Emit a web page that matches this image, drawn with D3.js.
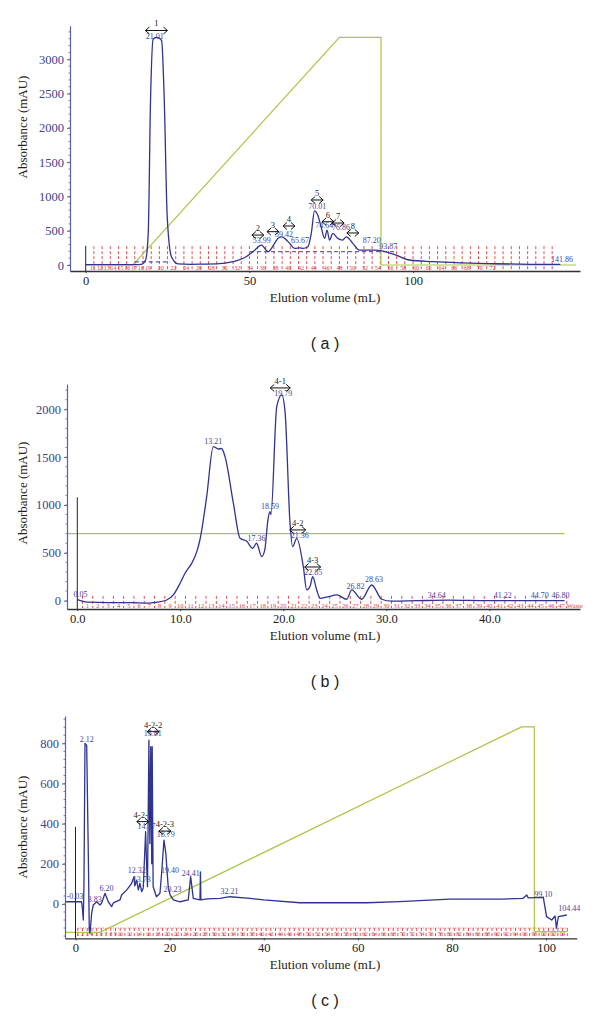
<!DOCTYPE html>
<html><head><meta charset="utf-8">
<script src="https://cdn.jsdelivr.net/npm/d3@7"></script>
<style>body{margin:0;background:#fff;} svg{display:block;} .serif{font-family:"Liberation Serif","Tinos","Times New Roman","DejaVu Serif",serif;} .sans{font-family:"Liberation Sans",Arial,sans-serif;}</style>
</head><body>
<svg id="chart" width="600" height="1025"></svg>
<script>
// ---------------- DATA ----------------
// Panel (a)
const aVolume = [0, 5, 10, 15, 17, 18.3, 19.1, 19.8, 20.6, 21.6, 22.5, 23.2, 24, 24.9, 26.2, 28.2, 32, 36, 40, 45, 49, 51.1, 53.7, 55.7, 57.7, 58.7, 59.8, 60.8, 62.3, 63.8, 65.6, 66.3, 67.9, 68.9, 69.9, 70.9, 71.9, 73, 73.7, 74.5, 75.5, 77, 78.5, 79.6, 81.6, 83.6, 86.7, 88.7, 91.8, 94.8, 98.9, 106, 115, 125, 136, 145];
const aAbsorbance = [5, 5, 5, 5, 10, 73, 465, 2400, 3295, 3320, 3310, 3270, 2400, 702, 120, 15, 10, 12, 15, 48, 120, 193, 290, 193, 315, 388, 411, 388, 315, 242, 250, 242, 266, 460, 790, 727, 557, 388, 509, 363, 460, 388, 363, 411, 315, 218, 218, 218, 193, 145, 73, 48, 30, 18, 10, 8];
const aGradVolume = [0, 14.4, 77.5, 90.2, 90.2, 149.8];
const aGradValue = [0, 0, 3320, 3320, 0, 0];
const aPeakNames = ["1", "2", "3", "4", "5", "6", "7", "8"];
const aPeakArrowX = [21.6, 52.6, 57.2, 62.1, 70.7, 74.0, 77.1, 81.6];
const aPeakArrowY = [3420, 437, 486, 569, 948, 631, 612, 467];
const aPeakArrowW = [11, 6, 6, 6, 6, 6, 6, 6];
const aLabelText = ["21.01", "53.99", "59.42", "65.67", "70.01", "74.64", "76.86", "87.20", "93.87", "141.86"];
const aLabelX = [21.1, 53.8, 60.6, 65.5, 70.7, 72.9, 78.0, 87.4, 92.4, 145.5];
const aLabelY = [3300, 325, 415, 325, 817, 545, 515, 325, 229, 44];

// Panel (b)
const bVolume = [0, 1, 3, 5, 7, 7.45, 8.68, 9.32, 9.97, 10.46, 11.1, 11.6, 11.9, 12.56, 13.2, 13.7, 14.0, 14.34, 15.15, 15.8, 16.45, 17.03, 17.4, 17.9, 18.2, 18.5, 18.7, 18.8, 19.36, 19.85, 20.17, 20.65, 20.9, 21.3, 21.94, 22.27, 22.6, 22.85, 23.24, 23.56, 24.3, 25.2, 26.15, 26.64, 27.6, 28.58, 29.55, 30.5, 33, 36, 40, 44, 47.3];
const bAbsorbance = [10, -15, -20, -20, -25, -20, 7, 60, 180, 286, 390, 512, 634, 1087, 1609, 1585, 1590, 1505, 1018, 652, 620, 548, 600, 460, 530, 840, 930, 900, 2027, 2150, 1970, 810, 564, 650, 355, 112, 150, 250, 112, 25, 40, 60, 15, 112, 15, 164, 15, -5, 0, 5, 0, 0, 0];
const bGradVolume = [-1.0, 47.3];
const bGradValue = [700, 700];
const bPeakNames = ["4-1", "4-2", "4-3"];
const bPeakArrowX = [19.7, 21.4, 22.85];
const bPeakArrowY = [2223, 739, 352];
const bPeakArrowW = [10, 8, 8];
const bLabelText = ["0.05", "13.21", "19.79", "18.59", "17.36", "21.36", "22.85", "26.82", "28.63", "34.64", "41.22", "44.70", "46.80"];
const bLabelX = [0.3, 13.2, 20.0, 18.7, 17.4, 21.6, 22.9, 27.0, 28.8, 34.9, 41.3, 44.9, 46.9];
const bLabelY = [40, 1637, 2140, 958, 627, 650, 265, 122, 199, 28, 28, 28, 28];

// Panel (c)
const cVolume = [-2.2, 0, 1.3, 1.5, 1.66, 1.8, 2.02, 2.38, 2.72, 2.93, 3.08, 3.44, 3.78, 4.5, 5.2, 5.56, 6.27, 6.97, 7.7, 8.03, 9.45, 9.8, 10.9, 11.94, 12.43, 12.6, 13.0, 13.35, 13.7, 14.06, 14.4, 14.9, 15.1, 15.3, 15.6, 15.8, 16.0, 16.2, 16.3, 16.5, 17.2, 17.95, 18.3, 18.8, 19.2, 19.5, 19.7, 20.1, 20.8, 22.2, 23.96, 24.47, 25.03, 26.45, 26.55, 26.65, 28, 30.7, 32.8, 37.1, 40, 47.7, 61.9, 68.9, 79.5, 90.2, 95.1, 95.9, 96.2, 99.4, 100.1, 101.2, 101.9, 102.2, 102.6, 104.4];
const cAbsorbance = [11, 11, 11, -30, -80, 100, 800, 790, 252, -130, -146, -46, -5, 11, -5, 5, 53, 11, -13, 5, 20, 45, 70, 103, 136, 90, 119, 70, 103, 61, 80, 360, 200, 86, 816, 300, 783, 200, 783, 86, 36, 53, 153, 318, 252, 150, 86, 45, 20, 11, 20, 136, 28, 20, 160, 20, 25, 28, 36, 28, 20, 6, 6, 12, 24, 24, 28, 45, 30, 33, -63, -80, -60, -120, -63, -55];
const cGradVolume = [-2.2, 5.2, 94.8, 97.5, 97.5, 104.6];
const cGradValue = [-141, -141, 882, 882, -138, -138];
const cPeakNames = ["4-2-1", "4-2-2", "4-2-3"];
const cPeakArrowX = [14.3, 16.5, 19.0];
const cPeakArrowY = [410, 858, 363];
const cPeakArrowW = [6, 6, 6];
const cLabelText = ["-0.03", "2.12", "3.83", "6.20", "12.32", "13.73", "14.77", "15.81", "18.79", "19.40", "20.23", "24.41", "32.21", "99.10", "104.44"];
const cLabelX = [-0.1, 2.4, 4.1, 6.6, 13.0, 14.1, 15.1, 16.4, 19.2, 20.1, 20.6, 24.5, 32.7, 99.4, 104.9];
const cLabelY = [25, 808, 11, 66, 154, 111, 373, 836, 335, 153, 61, 139, 48, 36, -35];

// Tick values
const aXTicks = [0, 50, 100];
const aYTicks = [0, 500, 1000, 1500, 2000, 2500, 3000];
const bXTicks = [0, 10, 20, 30, 40];
const bYTicks = [0, 500, 1000, 1500, 2000];
const cXTicks = [0, 20, 40, 60, 80, 100];
const cYTicks = [0, 200, 400, 600, 800];

// ---------------- DRAW ----------------
const svg = d3.select("#chart");
const BLUE = "#2f3391", GREEN = "#a9c646", RED = "#e23b3f", LBLUE = "#3f44a0";

function zip(xs, ys) { return xs.map((v, i) => [v, ys[i]]); }

function panel(cfg) {
  const x = d3.scaleLinear().domain(cfg.xDomain).range([cfg.left, cfg.right]);
  const y = d3.scaleLinear().domain(cfg.yDomain).range([cfg.bottom, cfg.top]);
  const g = svg.append("g");

  // fraction marks
  const fr = g.append("g");
  fr.selectAll("line.fl").data(cfg.fracLines).join("line")
    .attr("x1", d => x(d)).attr("x2", d => x(d))
    .attr("y1", y(cfg.fracTop)).attr("y2", cfg.bottom - 1)
    .attr("stroke", RED).attr("stroke-width", 0.9).attr("stroke-dasharray", "3,2");
  if (cfg.fracDotted) {
    fr.append("line").attr("x1", x(cfg.fracLines[0])).attr("x2", x(cfg.fracLines[cfg.fracLines.length - 1]))
      .attr("y1", y(cfg.fracTop)).attr("y2", y(cfg.fracTop))
      .attr("stroke", RED).attr("stroke-width", 0.9).attr("stroke-dasharray", "1,1.5");
  }
  fr.selectAll("text").data(cfg.fracLabels).join("text")
    .attr("class", "serif")
    .attr("x", d => x(d.v)).attr("y", cfg.fracLabelY)
    .attr("text-anchor", "middle")
    .style("font-size", cfg.fracFont + "px").attr("fill", RED).text(d => d.t);

  // gradient line
  g.append("path").datum(zip(cfg.gx, cfg.gy))
    .attr("d", d3.line().x(d => x(d[0])).y(d => y(d[1])))
    .attr("fill", "none").attr("stroke", GREEN).attr("stroke-width", 1.2);

  // injection mark
  g.append("line").attr("x1", x(0)).attr("x2", x(0))
    .attr("y1", cfg.bottom).attr("y2", y(cfg.inject))
    .attr("stroke", "#222").attr("stroke-width", 1);

  // integration baselines
  (cfg.baselines || []).forEach(b => {
    g.append("line").attr("x1", x(b[0])).attr("x2", x(b[1]))
      .attr("y1", y(b[2])).attr("y2", y(b[2]))
      .attr("stroke", b[3]).attr("stroke-width", 1).attr("stroke-dasharray", "4,3");
  });

  // absorbance curve
  g.append("path").datum(zip(cfg.vx, cfg.vy))
    .attr("d", d3.line().x(d => x(d[0])).y(d => y(d[1])).curve(cfg.curve))
    .attr("fill", "none").attr("stroke", BLUE).attr("stroke-width", 1.3)
    .attr("stroke-linejoin", "round");

  // axes
  const ya = g.append("g").attr("transform", `translate(${cfg.left},0)`)
    .call(d3.axisLeft(y).tickValues(cfg.yTicks).tickFormat(d3.format("d")).tickSize(3).tickPadding(3).tickSizeOuter(0));
  ya.attr("font-family", null).attr("font-size", null);
  ya.select(".domain").attr("stroke", "#5b60ad").attr("stroke-width", 1.2);
  ya.selectAll(".tick line").attr("stroke", "#5b60ad");
  ya.selectAll("text").attr("class", "serif").style("font-size", "12.5px").attr("fill", "#3d418f");
  const ydom = y.domain();
  const step = cfg.yTicks[1] - cfg.yTicks[0];
  const minor = d3.range(Math.ceil(ydom[0] / (step / 5)) * (step / 5), ydom[1], step / 5);
  g.append("g").selectAll("line").data(minor).join("line")
    .attr("x1", cfg.left - 1.5).attr("x2", cfg.left)
    .attr("y1", d => y(d)).attr("y2", d => y(d)).attr("stroke", "#5b60ad").attr("stroke-width", 0.8);

  const xa = g.append("g").attr("transform", `translate(0,${cfg.bottom})`)
    .call(d3.axisBottom(x).tickValues(cfg.xTicks).tickFormat(cfg.xFmt).tickSize(2).tickPadding(3).tickSizeOuter(0));
  xa.attr("font-family", null).attr("font-size", null);
  xa.select(".domain").attr("stroke", "#333").attr("stroke-width", 1.3);
  xa.selectAll(".tick line").attr("stroke", "#333");
  xa.selectAll("text").attr("class", "serif").style("font-size", "12.5px").attr("fill", "#222");

  // axis titles
  g.append("text").attr("class", "serif").attr("transform", `translate(27,${cfg.yTitleY}) rotate(-90)`)
    .attr("text-anchor", "middle").style("font-size", "13px").attr("fill", "#222")
    .text("Absorbance (mAU)");
  g.append("text").attr("class", "serif").attr("x", 325).attr("y", cfg.xTitleY)
    .attr("text-anchor", "middle").style("font-size", "13px").attr("fill", "#222")
    .text("Elution volume (mL)");

  // peak labels
  g.append("g").selectAll("text").data(cfg.labels).join("text")
    .attr("class", "serif")
    .attr("x", d => x(d.x)).attr("y", d => y(d.y))
    .attr("text-anchor", "middle").style("font-size", "8px")
    .attr("fill", LBLUE).text(d => d.t);

  // peak arrows
  const pa = g.append("g");
  cfg.peaks.forEach(p => {
    const cx = x(p.x), cy = y(p.y), w = p.w;
    pa.append("path")
      .attr("d", `M${cx - w},${cy} L${cx + w},${cy} M${cx - w + 4},${cy - 3.5} L${cx - w},${cy} L${cx - w + 4},${cy + 3.5} M${cx + w - 4},${cy - 3.5} L${cx + w},${cy} L${cx + w - 4},${cy + 3.5}`)
      .attr("fill", "none").attr("stroke", "#111").attr("stroke-width", 1);
    pa.append("text").attr("class", "serif").attr("x", cx).attr("y", cy - 4).attr("text-anchor", "middle")
      .style("font-size", "8.5px").attr("fill", "#222").text(p.n);
  });

  // panel letter
  g.append("text").attr("class", "sans").attr("x", 325).attr("y", cfg.letterY).attr("text-anchor", "middle")
    .style("font-size", "16px").attr("fill", "#222")
    .text(cfg.letter);
}

function labelsOf(t, xs, ys) { return t.map((s, i) => ({ t: s, x: xs[i], y: ys[i] })); }
function peaksOf(n, xs, ys, ws) { return n.map((s, i) => ({ n: s, x: xs[i], y: ys[i], w: ws[i] })); }

// fraction collector grids
const aFracLines = d3.range(2.5, 143, 2.5);
const aFracLabels = d3.range(0, 36).map(i => ({ v: 2.2 + i * (i < 9 ? 2.1 : 3.9) - (i >= 9 ? 8 * 1.8 : 0), t: String(i < 9 ? 11 + i : (i * 2 + 2) % 100).padStart(2, "0") }));
const bFracLines = d3.range(0.5, 48, 1);
const bFracLabels = d3.range(1, 48).map(n => ({ v: n, t: String(n) })).concat([{ v: 48.3, t: "Waste" }]);
const cFracLines = d3.range(0.5, 105, 1);
const cFracLabels = d3.range(1, 105).filter(n => n < 10 || n % 2 === 0).map(n => ({ v: n - 0.5, t: String(n % 100).padStart(n < 10 ? 1 : 2, "0") }));

panel({
  letter: "( a )", letterY: 349,
  left: 70, right: 580, top: 25.7, bottom: 271,
  xDomain: [-4.8, 151], yDomain: [-87.5, 3490],
  xTicks: aXTicks, yTicks: aYTicks, xFmt: d3.format("d"),
  yTitleY: 127, xTitleY: 302,
  vx: aVolume, vy: aAbsorbance, curve: d3.curveMonotoneX,
  gx: aGradVolume, gy: aGradValue, inject: 280,
  fracLines: aFracLines, fracTop: 275, fracLabels: aFracLabels, fracLabelY: 270, fracFont: 6,
  baselines: [[15, 25.8, 45, "#2f3391"], [50.2, 95, 194, "#3f44a0"]],
  labels: labelsOf(aLabelText, aLabelX, aLabelY),
  peaks: peaksOf(aPeakNames, aPeakArrowX, aPeakArrowY, aPeakArrowW)
});

panel({
  letter: "( b )", letterY: 687,
  left: 67, right: 580, top: 384, bottom: 609,
  xDomain: [-1.0, 48.8], yDomain: [-87, 2264],
  xTicks: bXTicks, yTicks: bYTicks, xFmt: d3.format(".1f"),
  yTitleY: 493, xTitleY: 640,
  vx: bVolume, vy: bAbsorbance, curve: d3.curveMonotoneX,
  gx: bGradVolume, gy: bGradValue, inject: 1080,
  fracLines: bFracLines, fracTop: 50, fracLabels: bFracLabels, fracLabelY: 607.5, fracFont: 6.5,
  labels: labelsOf(bLabelText, bLabelX, bLabelY),
  peaks: peaksOf(bPeakNames, bPeakArrowX, bPeakArrowY, bPeakArrowW)
});

panel({
  letter: "( c )", letterY: 1006,
  left: 65, right: 576.7, top: 716, bottom: 938.3,
  xDomain: [-2.23, 106.5], yDomain: [-171, 936],
  xTicks: cXTicks, yTicks: cYTicks, xFmt: d3.format("d"),
  yTitleY: 827, xTitleY: 969,
  vx: cVolume, vy: cAbsorbance, curve: d3.curveLinear,
  gx: cGradVolume, gy: cGradValue, inject: 384,
  fracLines: cFracLines, fracTop: -120, fracDotted: true, fracLabels: cFracLabels, fracLabelY: 936, fracFont: 5.5,
  labels: labelsOf(cLabelText, cLabelX, cLabelY),
  peaks: peaksOf(cPeakNames, cPeakArrowX, cPeakArrowY, cPeakArrowW)
});
</script>
</body></html>
